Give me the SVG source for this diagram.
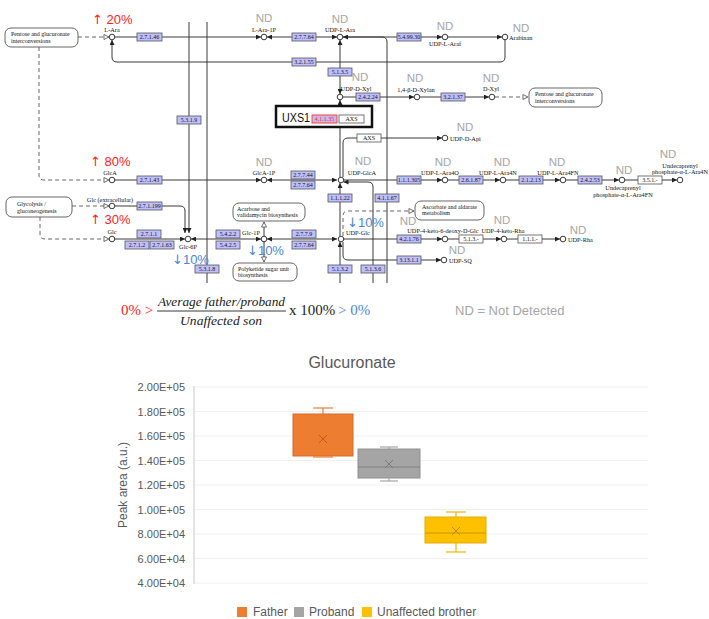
<svg xmlns="http://www.w3.org/2000/svg" width="709" height="619" viewBox="0 0 709 619">
<defs>
<marker id="a" viewBox="0 0 6 6" refX="6" refY="3" markerWidth="5" markerHeight="5" markerUnits="userSpaceOnUse" orient="auto-start-reverse"><path d="M0,0 L6,3 L0,6 z" fill="#222"/></marker>
<marker id="o" viewBox="0 0 7 7" refX="6.5" refY="3.5" markerWidth="6" markerHeight="6" markerUnits="userSpaceOnUse" orient="auto"><path d="M0.6,0.6 L6.4,3.5 L0.6,6.4 z" fill="#fff" stroke="#444" stroke-width="0.9"/></marker>
</defs>
<style>
.ln{fill:none;stroke:#3a3a3a;stroke-width:1}
.ds{fill:none;stroke:#666;stroke-width:1;stroke-dasharray:4 3}
.cp circle{fill:#fff;stroke:#222;stroke-width:0.9}
.lb{font-family:"Liberation Serif",serif;font-size:6.3px;fill:#111}
.ec rect{fill:#bfbfff;stroke:#555;stroke-width:0.8}
.wb rect{fill:#fff;stroke:#555;stroke-width:0.8}
.ec text,.wb text{font-family:"Liberation Serif",serif;font-size:6px;fill:#111;text-anchor:middle}
.mp rect{fill:#fff;stroke:#555;stroke-width:0.9}
.mp text{font-family:"Liberation Serif",serif;font-size:6px;fill:#111}
.nd{font-family:"Liberation Sans",sans-serif;font-size:11.5px;fill:#a6a6a6;text-anchor:middle}
.up{font-family:"Liberation Sans",sans-serif;font-size:13px;fill:#ff2020}
.dn{font-family:"Liberation Sans",sans-serif;font-size:13px;fill:#4a86dc}
.ar{font-family:"DejaVu Sans",sans-serif;font-size:13px}
.ch{font-family:"Liberation Sans",sans-serif;fill:#595959}
.ax{font-family:"Liberation Sans",sans-serif;font-size:11px;fill:#595959;text-anchor:end}
.gr{stroke:#f0f0f0;stroke-width:1}
</style>

<g id="connectors">
<path class="ln" d="M115,37 H261" marker-end="url(#a)"/>
<path class="ln" d="M267,37 H337" marker-start="url(#a)" marker-end="url(#a)"/>
<path class="ln" d="M343,37 H442" marker-end="url(#a)"/>
<path class="ln" d="M448,37 H502" marker-end="url(#a)"/>
<path class="ln" d="M505,40 V57 Q505,62 500,62 H117 Q112,62 112,57 V40" marker-end="url(#a)"/>
<path class="ln" d="M387,283 V42 Q387,37 382,37 H343" marker-end="url(#a)"/>
<path class="ln" d="M340,40 V94" marker-start="url(#a)" marker-end="url(#a)"/>
<path class="ln" d="M340,177 V100" marker-end="url(#a)"/>
<path class="ln" d="M343,97 H414" marker-end="url(#a)"/>
<path class="ln" d="M420,97 H489" marker-end="url(#a)"/>
<path class="ds" d="M495,97 H528" marker-end="url(#o)"/>
<path class="ds" d="M78,37 H109" marker-end="url(#o)"/>
<path class="ds" d="M39,47 V175 Q39,180 44,180 H109" marker-end="url(#o)"/>
<path class="ln" d="M115,180 H261" marker-end="url(#a)"/>
<path class="ln" d="M267,180 H337" marker-start="url(#a)" marker-end="url(#a)"/>
<path class="ln" d="M343,177 V143 Q343,138 348,138 H442" marker-end="url(#a)"/>
<path class="ln" d="M343,180 H442" marker-end="url(#a)"/>
<path class="ln" d="M448,180 H500" marker-end="url(#a)"/>
<path class="ln" d="M506,180 H560" marker-end="url(#a)"/>
<path class="ln" d="M566,180 H619" marker-end="url(#a)"/>
<path class="ln" d="M625,180 H677" marker-end="url(#a)"/>
<path class="ln" d="M373,283 V187 Q373,182 368,182 H343.5" marker-end="url(#a)"/>
<path class="ln" d="M340,236 V183" marker-end="url(#a)"/>
<path class="ln" d="M189,22 V233" marker-end="url(#a)"/>
<path class="ln" d="M207,22 V283"/>
<path class="ds" d="M72,206 H109" marker-end="url(#o)"/>
<path class="ln" d="M115,206 H180 Q185,206 185,211 V233" marker-end="url(#a)"/>
<path class="ds" d="M40,217 V234 Q40,239 45,239 H109" marker-end="url(#o)"/>
<path class="ln" d="M115,239 H185" marker-end="url(#a)"/>
<path class="ln" d="M191,239 H261" marker-start="url(#a)" marker-end="url(#a)"/>
<path class="ln" d="M267,239 H337" marker-start="url(#a)" marker-end="url(#a)"/>
<path class="ln" d="M343,239 H442" marker-end="url(#a)"/>
<path class="ln" d="M448,239 H501" marker-end="url(#a)"/>
<path class="ln" d="M507,239 H560" marker-end="url(#a)"/>
<path class="ln" d="M343,242 V255 Q343,260 348,260 H441" marker-end="url(#a)"/>
<path class="ds" d="M343,236 V216 Q343,211 348,211 H414" marker-end="url(#o)"/>
<path class="ln" d="M264,236 V222" stroke-width="0.7" marker-end="url(#o)"/>
<path class="ln" d="M264,242 V262" stroke-width="0.7" marker-end="url(#o)"/>
<path class="ln" d="M340,283 V242" marker-end="url(#a)"/>
</g>

<g id="pathway-boxes" class="mp">
<g id="map-pentose-left"><rect x="5" y="28" width="73" height="19" rx="6"/><text x="11" y="35.5">Pentose and glucuronate</text><text x="11" y="42.5">interconversions</text></g>
<g id="map-pentose-right"><rect x="529" y="88" width="73" height="19" rx="6"/><text x="535" y="96">Pentose and glucuronate</text><text x="535" y="103">interconversions</text></g>
<g id="map-glycolysis"><rect x="6" y="197" width="66" height="20" rx="6"/><text x="17" y="205.5">Glycolysis /</text><text x="17" y="212.5">gluconeogenesis</text></g>
<g id="map-acarbose"><rect x="233" y="203" width="72" height="18" rx="6"/><text x="237" y="210.5">Acarbose and</text><text x="237" y="217">validamycin biosynthesis</text></g>
<g id="map-polyketide"><rect x="233" y="263" width="64" height="18" rx="6"/><text x="238" y="270.5">Polyketide sugar unit</text><text x="238" y="277">biosynthesis</text></g>
<g id="map-ascorbate"><rect x="415" y="201" width="69" height="19" rx="6"/><text x="422" y="208.5">Ascorbate and aldarate</text><text x="422" y="215">metabolism</text></g>
</g>

<g id="enzymes">
<g class="ec" id="ec-2.7.1.46"><rect x="137" y="33" width="25" height="8"/><text x="149.5" y="39.2">2.7.1.46</text></g>
<g class="ec" id="ec-2.7.7.64a"><rect x="292" y="33" width="24" height="8"/><text x="304" y="39.2">2.7.7.64</text></g>
<g class="ec" id="ec-5.4.99.30"><rect x="397" y="33" width="24" height="8"/><text x="409" y="39.2">5.4.99.30</text></g>
<g class="ec" id="ec-3.2.1.55"><rect x="292" y="58" width="24" height="8"/><text x="304" y="64.2">3.2.1.55</text></g>
<g class="ec" id="ec-5.1.3.5"><rect x="328" y="68" width="24" height="8"/><text x="340" y="74.2">5.1.3.5</text></g>
<g class="ec" id="ec-2.4.2.24"><rect x="356" y="93" width="24" height="8"/><text x="368" y="99.2">2.4.2.24</text></g>
<g class="ec" id="ec-3.2.1.37"><rect x="441" y="93" width="24" height="8"/><text x="453" y="99.2">3.2.1.37</text></g>
<g class="ec" id="ec-5.3.1.9"><rect x="177" y="116" width="24" height="8"/><text x="189" y="122.2">5.3.1.9</text></g>
<g class="ec" id="ec-2.7.1.43"><rect x="137" y="176" width="25" height="8"/><text x="149.5" y="182.2">2.7.1.43</text></g>
<g class="ec" id="ec-2.7.7.44"><rect x="291" y="171" width="24" height="8"/><text x="303" y="177.2">2.7.7.44</text></g>
<g class="ec" id="ec-2.7.7.64b"><rect x="291" y="181" width="24" height="8"/><text x="303" y="187.2">2.7.7.64</text></g>
<g class="ec" id="ec-1.1.1.305"><rect x="397" y="176" width="24" height="8"/><text x="409" y="182.2">1.1.1.305</text></g>
<g class="ec" id="ec-2.6.1.87"><rect x="459" y="176" width="24" height="8"/><text x="471" y="182.2">2.6.1.87</text></g>
<g class="ec" id="ec-2.1.2.13"><rect x="519" y="176" width="24" height="8"/><text x="531" y="182.2">2.1.2.13</text></g>
<g class="ec" id="ec-2.4.2.53"><rect x="578" y="176" width="24" height="8"/><text x="590" y="182.2">2.4.2.53</text></g>
<g class="ec" id="ec-1.1.1.22"><rect x="328" y="194" width="24" height="8"/><text x="340" y="200.2">1.1.1.22</text></g>
<g class="ec" id="ec-4.1.1.67"><rect x="375" y="194" width="24" height="8"/><text x="387" y="200.2">4.1.1.67</text></g>
<g class="ec" id="ec-2.7.1.199"><rect x="137" y="202" width="25" height="8"/><text x="149.5" y="208.2">2.7.1.199</text></g>
<g class="ec" id="ec-2.7.1.1"><rect x="137" y="230" width="24" height="8"/><text x="149" y="236.2">2.7.1.1</text></g>
<g class="ec" id="ec-2.7.1.2"><rect x="125" y="241" width="24" height="8"/><text x="137" y="247.2">2.7.1.2</text></g>
<g class="ec" id="ec-2.7.1.63"><rect x="150" y="241" width="24" height="8"/><text x="162" y="247.2">2.7.1.63</text></g>
<g class="ec" id="ec-5.4.2.2"><rect x="216" y="230" width="24" height="8"/><text x="228" y="236.2">5.4.2.2</text></g>
<g class="ec" id="ec-5.4.2.5"><rect x="216" y="241" width="24" height="8"/><text x="228" y="247.2">5.4.2.5</text></g>
<g class="ec" id="ec-2.7.7.9"><rect x="292" y="230" width="24" height="8"/><text x="304" y="236.2">2.7.7.9</text></g>
<g class="ec" id="ec-2.7.7.64c"><rect x="292" y="241" width="24" height="8"/><text x="304" y="247.2">2.7.7.64</text></g>
<g class="ec" id="ec-4.2.1.76"><rect x="397" y="235" width="24" height="8"/><text x="409" y="241.2">4.2.1.76</text></g>
<g class="ec" id="ec-3.13.1.1"><rect x="397" y="256" width="24" height="8"/><text x="409" y="262.2">3.13.1.1</text></g>
<g class="ec" id="ec-5.3.1.8"><rect x="195" y="265" width="24" height="8"/><text x="207" y="271.2">5.3.1.8</text></g>
<g class="ec" id="ec-5.1.3.2"><rect x="328" y="265" width="24" height="8"/><text x="340" y="271.2">5.1.3.2</text></g>
<g class="ec" id="ec-5.1.3.6"><rect x="361" y="265" width="24" height="8"/><text x="373" y="271.2">5.1.3.6</text></g>
<g class="wb" id="ec-axs2"><rect x="357" y="134" width="24" height="8"/><text x="369" y="140.2">AXS</text></g>
<g class="wb" id="ec-3.5.1.-"><rect x="638" y="176" width="24" height="8"/><text x="650" y="182.2">3.5.1.-</text></g>
<g class="wb" id="ec-5.1.3.-"><rect x="459" y="235" width="24" height="8"/><text x="471" y="241.2">5.1.3.-</text></g>
<g class="wb" id="ec-1.1.1.-"><rect x="518" y="235" width="24" height="8"/><text x="530" y="241.2">1.1.1.-</text></g>
</g>

<g id="uxs1">
<rect x="276" y="106" width="96" height="21" fill="#fff" stroke="#111" stroke-width="2.5"/>
<text x="282" y="121.5" font-family="Liberation Sans, sans-serif" font-size="13" fill="#111" textLength="28" lengthAdjust="spacingAndGlyphs">UXS1</text>
<rect x="312" y="115" width="25" height="8" fill="#c9b8f0" stroke="#ff3030" stroke-width="0.9"/>
<text x="324.5" y="121.2" font-family="Liberation Serif, serif" font-size="6" fill="#ff2020" text-anchor="middle">4.1.1.35</text>
<g class="wb"><rect x="339" y="115" width="25" height="8"/><text x="351.5" y="121.2">AXS</text></g>
</g>

<g id="compounds" class="cp">
<g id="c-L-Ara"><circle cx="112" cy="37" r="2.8"/><text class="lb" x="112" y="31.5" text-anchor="middle">L-Ara</text></g>
<g id="c-L-Ara-1P"><circle cx="264" cy="37" r="2.8"/><text class="lb" x="264" y="31.5" text-anchor="middle">L-Ara-1P</text></g>
<g id="c-UDP-L-Ara"><circle cx="340" cy="37" r="2.8"/><text class="lb" x="340" y="31.5" text-anchor="middle">UDP-L-Ara</text></g>
<g id="c-UDP-L-Araf"><circle cx="445" cy="37" r="2.8"/><text class="lb" x="445" y="46" text-anchor="middle">UDP-L-Araf</text></g>
<g id="c-Arabinan"><circle cx="505" cy="37" r="2.8"/><text class="lb" x="509" y="39.5">Arabinan</text></g>
<g id="c-UDP-D-Xyl"><circle cx="340" cy="97" r="2.8"/><text class="lb" x="356" y="91" text-anchor="middle">UDP-D-Xyl</text></g>
<g id="c-Xylan"><circle cx="417" cy="97" r="2.8"/><text class="lb" x="416" y="91.5" text-anchor="middle">1,4-β-D-Xylan</text></g>
<g id="c-D-Xyl"><circle cx="492" cy="97" r="2.8"/><text class="lb" x="491" y="91" text-anchor="middle">D-Xyl</text></g>
<g id="c-UDP-D-Api"><circle cx="445" cy="138" r="2.8"/><text class="lb" x="450" y="140.5">UDP-D-Api</text></g>
<g id="c-GlcA"><circle cx="112" cy="180" r="2.8"/><text class="lb" x="110" y="174.5" text-anchor="middle">GlcA</text></g>
<g id="c-GlcA-1P"><circle cx="264" cy="180" r="2.8"/><text class="lb" x="264" y="174.5" text-anchor="middle">GlcA-1P</text></g>
<g id="c-UDP-GlcA"><circle cx="341" cy="180" r="2.8"/><text class="lb" x="362" y="174.5" text-anchor="middle">UDP-GlcA</text></g>
<g id="c-UDP-L-Ara4O"><circle cx="445" cy="180" r="2.8"/><text class="lb" x="440" y="174.5" text-anchor="middle">UDP-L-Ara4O</text></g>
<g id="c-UDP-L-Ara4N"><circle cx="503" cy="180" r="2.8"/><text class="lb" x="498" y="174.5" text-anchor="middle">UDP-L-Ara4N</text></g>
<g id="c-UDP-L-Ara4FN"><circle cx="563" cy="180" r="2.8"/><text class="lb" x="558" y="174.5" text-anchor="middle">UDP-L-Ara4FN</text></g>
<g id="c-Und-Ara4FN"><circle cx="622" cy="180" r="2.8"/><text class="lb" x="623" y="190" text-anchor="middle">Undecaprenyl</text><text class="lb" x="623" y="196.5" text-anchor="middle">phosphate-α-L-Ara4FN</text></g>
<g id="c-Und-Ara4N"><circle cx="680" cy="180" r="2.8"/><text class="lb" x="680" y="167.5" text-anchor="middle">Undecaprenyl</text><text class="lb" x="680" y="174" text-anchor="middle">phosphate-α-L-Ara4N</text></g>
<g id="c-Glc-ext"><circle cx="112" cy="206" r="2.8"/><text class="lb" x="110" y="202" text-anchor="middle">Glc (extracellular)</text></g>
<g id="c-Glc"><circle cx="112" cy="239" r="2.8"/><text class="lb" x="112" y="234" text-anchor="middle">Glc</text></g>
<g id="c-Glc-6P"><circle cx="188" cy="239" r="2.8"/><text class="lb" x="188" y="249" text-anchor="middle">Glc-6P</text></g>
<g id="c-Glc-1P"><circle cx="264" cy="239" r="2.8"/><text class="lb" x="251" y="235" text-anchor="middle">Glc-1P</text></g>
<g id="c-UDP-Glc"><circle cx="341" cy="239" r="2.8"/><text class="lb" x="346" y="235">UDP-Glc</text></g>
<g id="c-UDP-4k6dGlc"><circle cx="445" cy="239" r="2.8"/><text class="lb" x="443" y="233" text-anchor="middle">UDP-4-keto-6-deoxy-D-Glc</text></g>
<g id="c-UDP-4k-Rha"><circle cx="504" cy="239" r="2.8"/><text class="lb" x="503" y="233" text-anchor="middle">UDP-4-keto-Rha</text></g>
<g id="c-UDP-Rha"><circle cx="563" cy="239" r="2.8"/><text class="lb" x="568" y="241.5">UDP-Rha</text></g>
<g id="c-UDP-SQ"><circle cx="444" cy="260" r="2.8"/><text class="lb" x="449" y="262.5">UDP-SQ</text></g>
</g>

<g id="annotations">
<text class="nd" x="264" y="22">ND</text>
<text class="nd" x="340" y="23">ND</text>
<text class="nd" x="445" y="30">ND</text>
<text class="nd" x="521" y="32">ND</text>
<text class="nd" x="360" y="81">ND</text>
<text class="nd" x="415" y="82">ND</text>
<text class="nd" x="491" y="82">ND</text>
<text class="nd" x="465" y="131">ND</text>
<text class="nd" x="264" y="166">ND</text>
<text class="nd" x="363" y="165">ND</text>
<text class="nd" x="443" y="166">ND</text>
<text class="nd" x="502" y="166">ND</text>
<text class="nd" x="557" y="166">ND</text>
<text class="nd" x="624" y="174">ND</text>
<text class="nd" x="668" y="158">ND</text>
<text class="nd" x="408" y="225">ND</text>
<text class="nd" x="502" y="224">ND</text>
<text class="nd" x="578" y="234">ND</text>
<text class="nd" x="457" y="254">ND</text>
<text class="up" x="92" y="24"><tspan class="ar">↑</tspan> 20%</text>
<text class="up" x="90" y="166"><tspan class="ar">↑</tspan> 80%</text>
<text class="up" x="90" y="224"><tspan class="ar">↑</tspan> 30%</text>
<text class="dn" x="347" y="227"><tspan class="ar">↓</tspan>10%</text>
<text class="dn" x="247" y="255"><tspan class="ar">↓</tspan>10%</text>
<text class="dn" x="172" y="264"><tspan class="ar">↓</tspan>10%</text>
</g>

<g id="formula">
<text x="121" y="315" font-family="Liberation Serif, serif" font-size="15" fill="#ff2020">0% &gt;</text>
<text x="158" y="306" font-family="Liberation Serif, serif" font-style="italic" font-size="12.5" fill="#222" textLength="127" lengthAdjust="spacingAndGlyphs">Average father/proband</text>
<line x1="157" y1="311" x2="286" y2="311" stroke="#222" stroke-width="0.9"/>
<text x="221" y="325" font-family="Liberation Serif, serif" font-style="italic" font-size="12.5" fill="#222" text-anchor="middle" textLength="82" lengthAdjust="spacingAndGlyphs">Unaffected son</text>
<text x="289" y="315" font-family="Liberation Serif, serif" font-size="15" fill="#222">x 100%</text>
<text x="338" y="315" font-family="Liberation Serif, serif" font-size="15" fill="#4a86dc">&gt; 0%</text>
<text x="455" y="315" font-family="Liberation Sans, sans-serif" font-size="13" fill="#a6a6a6">ND = Not Detected</text>
</g>

<g id="chart">
<text class="ch" x="352" y="368" font-size="16" text-anchor="middle">Glucuronate</text>
<g id="grid">
<line class="gr" x1="195" y1="387" x2="648" y2="387"/>
<line class="gr" x1="195" y1="411.5" x2="648" y2="411.5"/>
<line class="gr" x1="195" y1="436" x2="648" y2="436"/>
<line class="gr" x1="195" y1="460.5" x2="648" y2="460.5"/>
<line class="gr" x1="195" y1="485" x2="648" y2="485"/>
<line class="gr" x1="195" y1="509.5" x2="648" y2="509.5"/>
<line class="gr" x1="195" y1="534" x2="648" y2="534"/>
<line class="gr" x1="195" y1="558.5" x2="648" y2="558.5"/>
<line class="gr" x1="195" y1="583" x2="648" y2="583"/>
<line x1="194" y1="386" x2="194" y2="584" stroke="#d9d9d9" stroke-width="1.5"/>
</g>
<g id="yticks">
<text class="ax" x="185" y="391">2.00E+05</text>
<text class="ax" x="185" y="415.5">1.80E+05</text>
<text class="ax" x="185" y="440">1.60E+05</text>
<text class="ax" x="185" y="464.5">1.40E+05</text>
<text class="ax" x="185" y="489">1.20E+05</text>
<text class="ax" x="185" y="513.5">1.00E+05</text>
<text class="ax" x="185" y="538">8.00E+04</text>
<text class="ax" x="185" y="562.5">6.00E+04</text>
<text class="ax" x="185" y="587">4.00E+04</text>
</g>
<text class="ch" x="0" y="0" font-size="12" text-anchor="middle" transform="translate(127,485) rotate(-90)">Peak area (a.u.)</text>
<g id="box-father">
<line x1="323" y1="408" x2="323" y2="414" stroke="#ED7D31" stroke-width="1.2"/>
<line x1="313" y1="408" x2="333" y2="408" stroke="#ED7D31" stroke-width="1.2"/>
<rect x="293" y="414" width="60" height="42" fill="#ED7D31" stroke="#D9692A" stroke-width="1"/>
<line x1="313" y1="457" x2="333" y2="457" stroke="#ED7D31" stroke-width="1.2"/>
<path d="M319,435 L327,443 M327,435 L319,443" stroke="#C45A1C" stroke-width="1"/>
</g>
<g id="box-proband">
<line x1="389" y1="447" x2="389" y2="449" stroke="#A5A5A5" stroke-width="1.2"/>
<line x1="380" y1="447" x2="398" y2="447" stroke="#A5A5A5" stroke-width="1.2"/>
<rect x="358" y="449" width="62" height="29" fill="#A5A5A5" stroke="#8f8f8f" stroke-width="1"/>
<line x1="358" y1="467" x2="420" y2="467" stroke="#808080" stroke-width="1"/>
<line x1="389" y1="478" x2="389" y2="481" stroke="#A5A5A5" stroke-width="1.2"/>
<line x1="380" y1="481" x2="398" y2="481" stroke="#A5A5A5" stroke-width="1.2"/>
<path d="M385,460 L393,468 M393,460 L385,468" stroke="#7a7a7a" stroke-width="1"/>
</g>
<g id="box-brother">
<line x1="456" y1="512" x2="456" y2="517" stroke="#F0B400" stroke-width="1.2"/>
<line x1="446" y1="512" x2="466" y2="512" stroke="#F0B400" stroke-width="1.2"/>
<rect x="425" y="517" width="61" height="26" fill="#FFC000" stroke="#E6AD00" stroke-width="1"/>
<line x1="425" y1="533" x2="486" y2="533" stroke="#C99700" stroke-width="1"/>
<line x1="456" y1="543" x2="456" y2="552" stroke="#F0B400" stroke-width="1.2"/>
<line x1="446" y1="552" x2="466" y2="552" stroke="#F0B400" stroke-width="1.2"/>
<path d="M452,527 L460,535 M460,527 L452,535" stroke="#B88A00" stroke-width="1"/>
</g>
<g id="legend">
<rect x="237" y="607" width="10" height="10" fill="#ED7D31"/>
<text class="ch" x="253" y="616" font-size="12">Father</text>
<rect x="294" y="607" width="10" height="10" fill="#A5A5A5"/>
<text class="ch" x="309" y="616" font-size="12">Proband</text>
<rect x="362" y="607" width="10" height="10" fill="#FFC000"/>
<text class="ch" x="377" y="616" font-size="12">Unaffected brother</text>
</g>
</g>
</svg>
